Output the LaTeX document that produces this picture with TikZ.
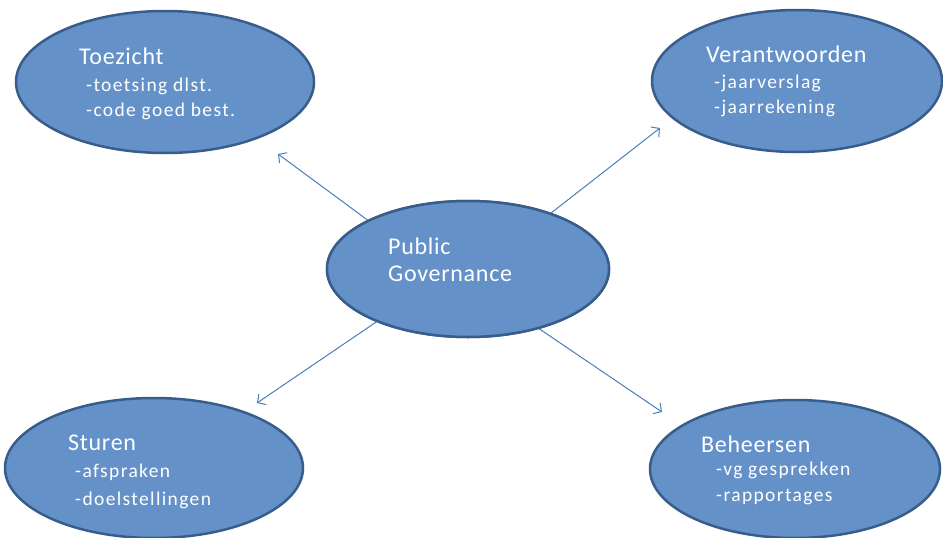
\documentclass[tikz,border=0pt]{standalone}
\usepackage{fontspec}
\setmainfont{Carlito}
\newfontfamily\headfont[LetterSpace=3]{Carlito}
\newfontfamily\subfont[LetterSpace=7]{Carlito}
\usetikzlibrary{shapes.geometric,arrows.meta}
\definecolor{ellfill}{RGB}{101,145,201}
\definecolor{elldraw}{RGB}{56,93,138}
\definecolor{arrcol}{RGB}{74,126,187}
\tikzset{
  ell/.style={ellipse, fill=ellfill, draw=elldraw, line width=2.5pt, inner sep=0pt},
  head/.style={anchor=west, inner sep=0pt, text=white, font=\headfont\fontsize{24}{28}\selectfont},
  sub/.style={anchor=west, inner sep=0pt, text=white, font=\subfont\fontsize{19.5}{22}\selectfont},
  arr/.style={draw=arrcol, line width=1pt, -{Straight Barb[length=6pt,width=13pt]}},
}
\begin{document}
\begin{tikzpicture}[x=1pt,y=-1pt]
\useasboundingbox (0,0) rectangle (943,538);
\node[ell, minimum width=282pt, minimum height=136pt] (pg) at (468,269) {};
\coordinate (tipA) at (278,154);
\coordinate (tipB) at (660,128);
\coordinate (tipC) at (257,403);
\coordinate (tipD) at (662,412);
\draw[arr] (pg.154) -- (tipA);
\draw[arr] (pg.34) -- (tipB);
\draw[arr] (pg.-150) -- (tipC);
\draw[arr] (pg.-40) -- (tipD);
\node[ell, minimum width=282pt, minimum height=136pt] (pg2) at (468,269) {};
\node[ell, minimum width=298pt, minimum height=142pt] (toe) at (165,82) {};
\node[ell, minimum width=290pt, minimum height=142pt] (ver) at (797,81) {};
\node[ell, minimum width=298pt, minimum height=140pt] (stu) at (154,468) {};
\node[ell, minimum width=290pt, minimum height=138pt] (beh) at (795,469) {};
% texts
\node[head] (toe-h) at (79,56) {Toezicht};
\node[sub] (toe-1) at (86,86) {-toetsing dlst.};
\node[sub] (toe-2) at (86,111) {-code goed best.};
\node[head] (ver-h) at (706,54) {Verantwoorden};
\node[sub] (ver-1) at (714,83) {-jaarverslag};
\node[sub] (ver-2) at (714,108) {-jaarrekening};
\node[head] (pg-1) at (388,246) {Public};
\node[head] (pg-h) at (388,274) {Governance};
\node[head] (stu-h) at (68,443) {Sturen};
\node[sub] (stu-1) at (75,472) {-afspraken};
\node[sub] (stu-2) at (75,500) {-doelstellingen};
\node[head] (beh-h) at (701,444) {Beheersen};
\node[sub] (beh-1) at (716,470) {-vg gesprekken};
\node[sub] (beh-2) at (716,497) {-rapportages};
\end{tikzpicture}
\end{document}
